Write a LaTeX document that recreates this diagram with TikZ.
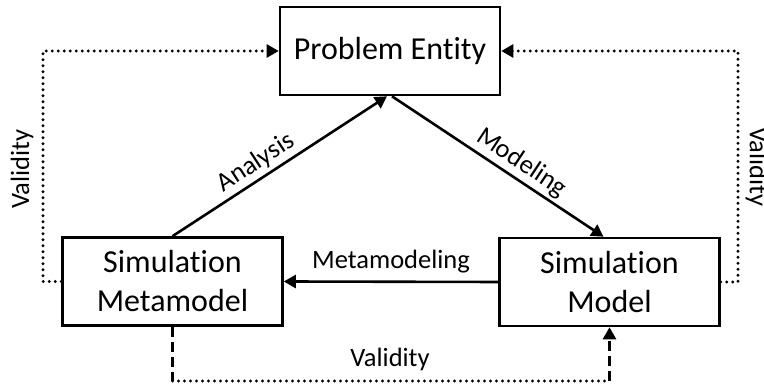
\documentclass[tikz,border=0pt]{standalone}
\usepackage{fontspec}
\setmainfont{Carlito}[Ligatures=NoCommon]
\usetikzlibrary{arrows.meta, positioning, calc}

\begin{document}
\begin{tikzpicture}[
    x=1pt, y=1pt,
    block/.style={rectangle, draw, line width=2.6pt, minimum width=220pt, minimum height=88pt, align=center, font=\fontsize{32}{39}\selectfont},
    arrow/.style={draw, line width=2.6pt, -{Triangle[length=12pt,width=13pt]}},
    lbl/.style={font=\fontsize{26.5}{30}\selectfont},
    dotline/.style={line width=3.2pt, line cap=round, dash pattern=on 0pt off 6pt},
    dashline/.style={line width=2.6pt, dash pattern=on 10pt off 5pt}
]
\useasboundingbox (0,0) rectangle (764,387);

\node[block] (entity) at (390,336) {Problem Entity};
\node[block] (meta) at (172.5,105.5) {Simulation\\Metamodel};
\node[block] (model) at (609.5,105) {Simulation\\Model};

% main cycle
\draw[arrow] (meta.north) -- node[lbl, sloped, above, pos=0.43] {Analysis} ($(entity.south)+(-3,0)$);
\draw[arrow] ($(entity.south)+(2,0)$) -- node[lbl, sloped, above, pos=0.57] {Modeling} ($(model.north)+(-6,0)$);
\draw[arrow] (model.west) -- node[lbl, above=4pt] {Metamodeling} (meta.east);

% validity loops
\coordinate (lcorner) at (43,0);
\coordinate (rcorner) at (738,0);
\draw[dotline] (meta.west) -- (meta.west -| lcorner) |- ($(entity.west)+(-8,0)$);
\draw[arrow] ($(entity.west)+(-9,0)$) -- (entity.west);
\draw[dotline] (model.east) -- (model.east -| rcorner) |- ($(entity.east)+(8,0)$);
\draw[arrow] ($(entity.east)+(9,0)$) -- (entity.east);
\node[lbl, rotate=90] (vleft) at (22,218) {Validity};
\node[lbl, rotate=-90] (vright) at (757,220) {Validity};

\coordinate (bl) at (meta.south |- 0,6);
\coordinate (br) at (model.south |- 0,6);
\draw[dashline] (meta.south) -- (bl);
\draw[dotline] (bl) -- (br);
\draw[arrow, dashline] (br) -- (model.south);
\node[lbl] (vbottom) at (390,28) {Validity};

\end{tikzpicture}
\end{document}
